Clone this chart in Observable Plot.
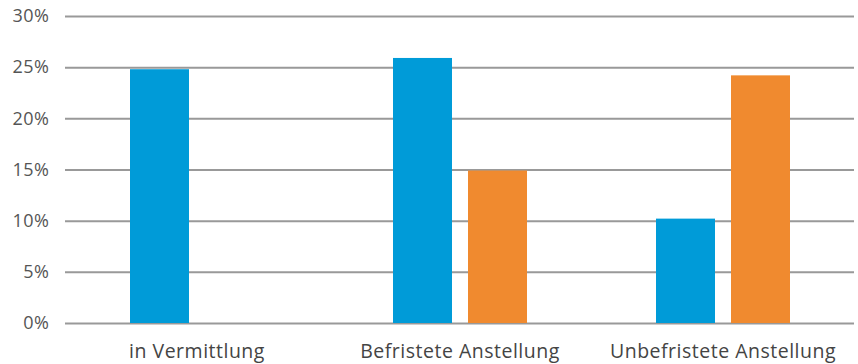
<!DOCTYPE html>
<html>
<head>
<meta charset="utf-8">
<script src="https://cdn.jsdelivr.net/npm/d3@7"></script>
<script src="https://cdn.jsdelivr.net/npm/@observablehq/plot@0.6"></script>
<style>
  html, body { margin: 0; padding: 0; background: #fff; }
  #chart svg { display: block; }
  #chart svg text { letter-spacing: 0.5px; }
</style>
</head>
<body>
<div id="chart"></div>
<script>
const categories = ["in Vermittlung", "Befristete Anstellung", "Unbefristete Anstellung"];
const seriesNames = ["Serie 1", "Serie 2"];
const serie1Values = [24.8, 25.9, 10.2];
const serie2Values = [null, 14.9, 24.2];
const yTicks = [0, 5, 10, 15, 20, 25, 30];
const seriesColors = ["#009bd8", "#f08a2f"];

const rows = [];
categories.forEach((c, i) => {
  if (serie1Values[i] != null) rows.push({category: c, series: seriesNames[0], value: serie1Values[i]});
  if (serie2Values[i] != null) rows.push({category: c, series: seriesNames[1], value: serie2Values[i]});
});

const chart = Plot.plot({
  width: 858,
  height: 364,
  marginLeft: 64,
  marginRight: 3,
  marginTop: 16,
  marginBottom: 41,
  style: {fontFamily: "'Open Sans', sans-serif", background: "#fff"},
  fx: {domain: categories, padding: 0, label: null},
  x: {domain: seriesNames, paddingInner: 0.22, paddingOuter: 0.85, axis: null},
  y: {domain: [0, 30], label: null},
  color: {domain: seriesNames, range: seriesColors},
  marks: [
    Plot.ruleY(yTicks, {stroke: "#999", strokeWidth: 2}),
    Plot.barY(rows, {fx: "category", x: "series", y: "value", fill: "series"}),
    Plot.axisY(yTicks, {tickSize: 0, tickPadding: 16, tickFormat: d => d + "%", fontSize: 18, fill: "#555", label: null}),
    Plot.axisFx({anchor: "bottom", tickSize: 0, tickPadding: 21, fontSize: 19.5, fill: "#444", label: null})
  ]
});
document.getElementById("chart").appendChild(chart);
</script>
</body>
</html>
